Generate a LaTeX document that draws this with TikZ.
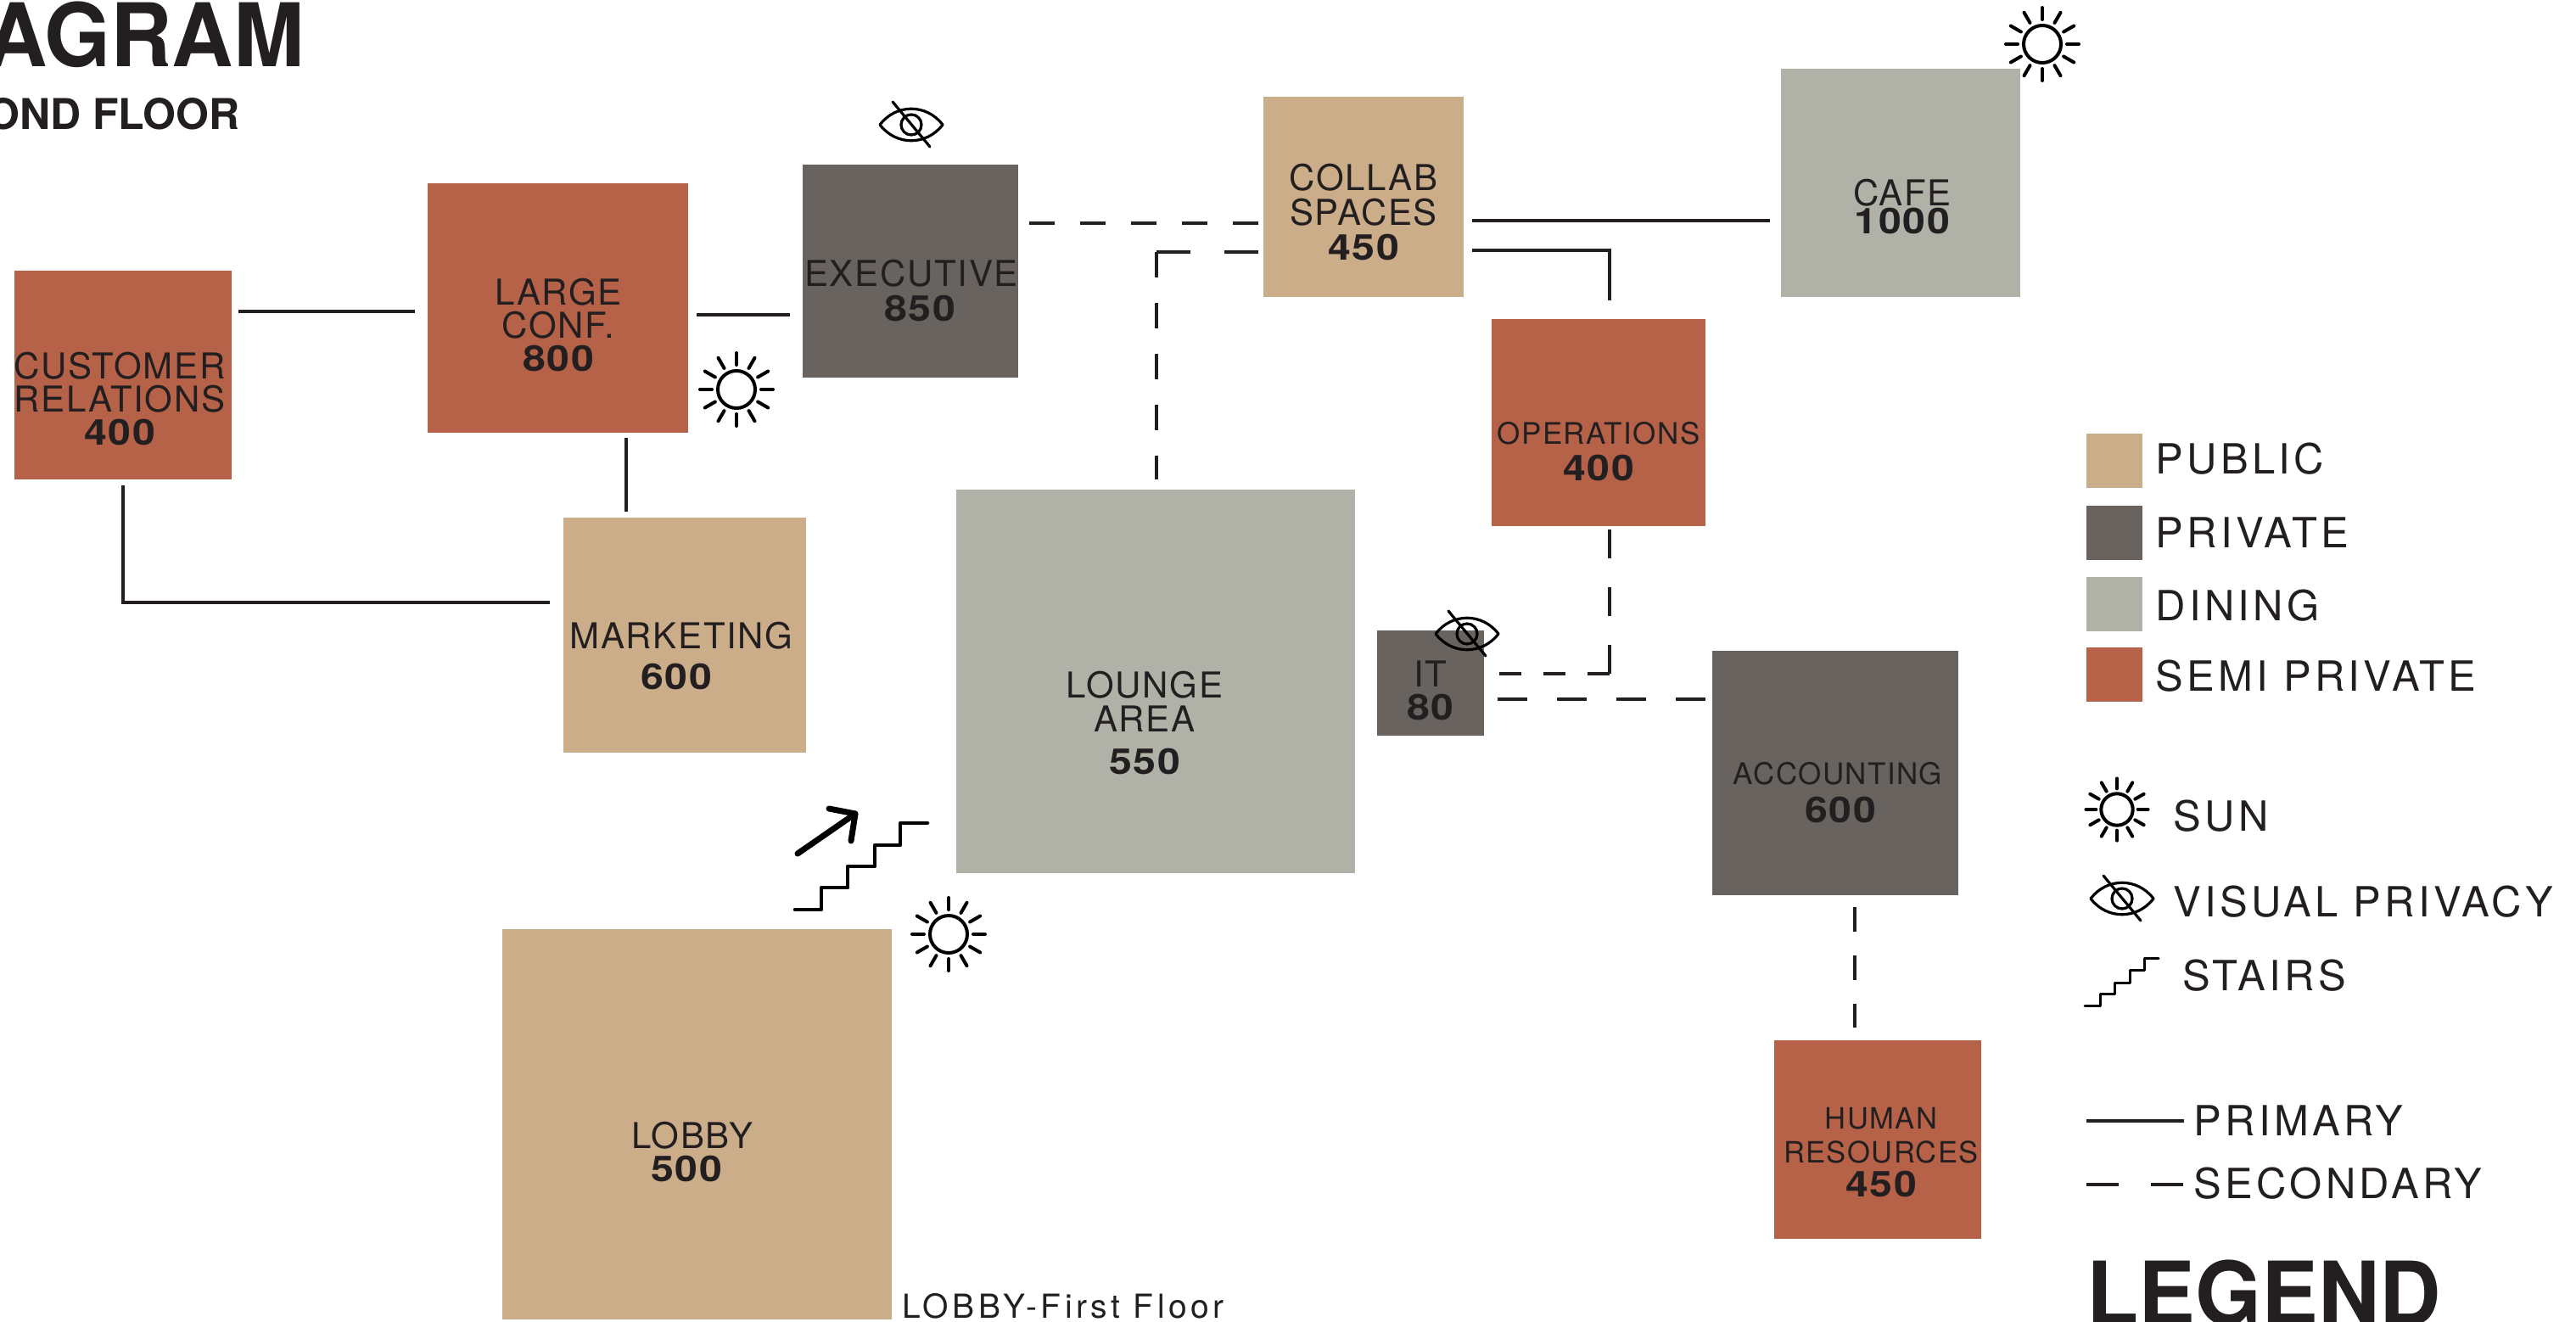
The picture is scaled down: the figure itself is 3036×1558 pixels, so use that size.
\documentclass[tikz,border=0pt]{standalone}
\usepackage{fontspec}
\setmainfont{TeX Gyre Heros}
\newfontfamily\roomfont[LetterSpace=4]{TeX Gyre Heros}
\newfontfamily\legfont[LetterSpace=8.8]{TeX Gyre Heros}
\newfontfamily\notefont[LetterSpace=11.5]{TeX Gyre Heros}
\newfontfamily\numfont[LetterSpace=4,FakeStretch=1.15]{TeX Gyre Heros}
\newfontfamily\headfont[FakeStretch=0.97]{TeX Gyre Heros}
\definecolor{ink}{HTML}{231F20}
\definecolor{pub}{HTML}{CCAD8A}
\definecolor{priv}{HTML}{68635F}
\definecolor{dine}{HTML}{B0B2A8}
\definecolor{semi}{HTML}{B66249}
\newcommand{\rnum}[1]{{\numfont\bfseries\fontsize{21}{21}\selectfont #1}}
\newcommand{\room}[6]{\node[roombox,fill=#6,minimum width={(#4-#2)*0.5pt},minimum height={(#5-#3)*0.5pt},anchor=north west] (#1) at (#2,#3) {};}
\newcommand{\rlabel}[6]{\node[roomtext,font={\roomfont\fontsize{#4}{#5}\selectfont}] (#1t) at (#2,#3) {#6};}
\tikzset{
  roombox/.style={rectangle,draw=none,inner sep=0pt,outer sep=0pt},
  roomtext/.style={align=center,inner sep=0pt,text=ink},
  legtext/.style={anchor=base west,inner sep=0pt,text=ink,font={\legfont\fontsize{24.5}{28}\selectfont}},
  primary/.style={draw=ink,line width=2pt},
  secondary/.style={draw=ink,line width=2pt,dash pattern=on 17.5pt off 17.5pt},
  secondaryshort/.style={draw=ink,line width=2pt,dash pattern=on 13pt off 13pt},
  secondarya/.style={draw=ink,line width=2pt,dash pattern=on 15pt off 15pt},
  secondaryb/.style={draw=ink,line width=2pt,dash pattern=on 20pt off 20pt},
  secondaryc/.style={draw=ink,line width=2pt,dash pattern=on 14.5pt off 14pt},
  secondaryd/.style={draw=ink,line width=2pt,dash pattern=on 17pt off 17pt},
  icon/.style={draw=black,line width=2pt,line cap=round,line join=round},
  sunicon/.pic={
    \draw[icon] (0,0) circle (22);
    \foreach \a in {0,30,...,330}{\draw[icon] (\a:29) -- (\a:43);}
  },
  eyeicon/.pic={
    \draw[icon,line width=1.6pt] (-37,0) .. controls (-18,-25) and (18,-25) .. (37,0) .. controls (18,25) and (-18,25) .. (-37,0) -- cycle;
    \draw[icon,line width=1.6pt] (0,0) circle (12);
    \draw[icon,line width=1.6pt] (-22,-27) -- (22,26);
  },
}
\begin{document}
\begin{tikzpicture}[x=0.5pt,y=-0.5pt]
\path[use as bounding box,clip] (0,0) rectangle (3036,1558);
% rooms
\room{cust}{17}{319}{273}{565}{semi}
\room{large}{504}{216}{811}{510}{semi}
\room{exec}{946}{194}{1200}{445}{priv}
\room{collab}{1489}{114}{1725}{350}{pub}
\room{cafe}{2099}{81}{2381}{350}{dine}
\room{ops}{1758}{376}{2010}{620}{semi}
\room{mkt}{664}{610}{950}{887}{pub}
\room{lounge}{1127}{577}{1597}{1029}{dine}
\room{it}{1623}{743}{1749}{867}{priv}
\room{acc}{2018}{767}{2308}{1055}{priv}
\room{hr}{2091}{1226}{2335}{1460}{semi}
\room{lobby}{592}{1095}{1051}{1555}{pub}
% room labels
\rlabel{cust}{141}{470}{21}{19.3}{CUSTOMER\\RELATIONS\\\rnum{400}}
\rlabel{large}{658}{383}{21}{19.3}{LARGE\\CONF.\\\rnum{800}}
\rlabel{exec}{1074}{342}{21}{20.5}{EXECUTIVE\\\hspace*{10pt}\rnum{850}}
\rlabel{collab}{1607}{250}{21}{20.3}{COLLAB\\SPACES\\\rnum{450}}
\rlabel{cafe}{2242}{243}{21}{16.5}{CAFE\\\rnum{1000}}
\rlabel{ops}{1884}{532}{17.5}{21.3}{OPERATIONS\\\rnum{400}}
\rlabel{mkt}{803}{773}{21}{24}{MARKETING\\\rnum{600}\hspace*{6pt}}
\rlabel{lounge}{1349}{852}{21}{20}{LOUNGE\\AREA\\[5pt]\rnum{550}}
\rlabel{it}{1686}{814}{21}{19.5}{IT\\\rnum{80}}
\rlabel{acc}{2166}{934}{17.5}{22.3}{ACCOUNTING\\\hspace*{3pt}\rnum{600}}
\rlabel{hr}{2217}{1358}{17.3}{20}{HUMAN\\RESOURCES\\\rnum{450}}
\rlabel{lobby}{816}{1357}{21}{19.5}{LOBBY\\\rnum{500}\hspace*{7pt}}
% connector guides
\coordinate (yCL) at (0,367);
\coordinate (yLE) at (0,371);
\coordinate (xLM) at (738,0);
\coordinate (yCM) at (0,710);
\coordinate (yEC) at (0,263);
\coordinate (yLC) at (0,297);
\coordinate (xLC) at (1363,0);
\coordinate (yCC) at (0,260);
\coordinate (yCO) at (0,295);
\coordinate (xOP) at (1897,0);
\coordinate (yOI) at (0,794);
\coordinate (yIA) at (0,824);
\coordinate (xAH) at (2186,0);
% primary connectors
\draw[primary,shorten <=4pt,shorten >=7.5pt] (cust.east |- yCL) -- (large.west |- yCL);
\draw[primary,shorten <=5pt,shorten >=7.5pt] (large.east |- yLE) -- (exec.west |- yLE);
\draw[primary,shorten <=3pt,shorten >=3.5pt] (large.south -| xLM) -- (mkt.north -| xLM);
\draw[primary,shorten <=3.5pt,shorten >=8pt] (cust.south) -- (cust.south |- yCM) -- (mkt.west |- yCM);
\draw[primary,shorten <=5pt,shorten >=6.5pt] (collab.east |- yCC) -- (cafe.west |- yCC);
\draw[primary,shorten <=5pt,shorten >=11pt] (collab.east |- yCO) -- (xOP |- yCO) -- (ops.north -| xOP);
% secondary connectors
\draw[secondarya,shorten <=6.5pt,shorten >=2.5pt] (exec.east |- yEC) -- (collab.west |- yEC);
\draw[secondarya,shorten >=6pt] (xLC |- yLC) -- (lounge.north -| xLC);
\draw[secondaryb,shorten >=2.5pt] (xLC |- yLC) -- (collab.west |- yLC);
\draw[secondaryd,shorten >=2pt] (xOP |- yOI) -- (ops.south -| xOP);
\draw[secondaryshort] (xOP |- yOI) -- (it.east |- yOI);
\draw[secondary,shorten <=8pt,shorten >=3.5pt] (it.east |- yIA) -- (acc.west |- yIA);
\draw[secondaryc,shorten <=7pt,shorten >=7.5pt] (acc.south -| xAH) -- (hr.north -| xAH);
% sun icons
\pic at (868,459) {sunicon};
\pic at (2407,52) {sunicon};
\pic at (1118,1101) {sunicon};
\pic[scale=0.85] at (2495,954) {sunicon};
% eye icons
\pic at (1074,147) {eyeicon};
\pic at (1729,747) {eyeicon};
\pic at (2501,1059) {eyeicon};
% stairs
\draw[icon,line width=2.25pt] (937,1072) -- (968,1072) -- (968,1046) -- (999,1046) -- (999,1021) -- (1031,1021) -- (1031,996) -- (1061,996) -- (1061,970) -- (1093,970);
\draw[icon,line width=3.5pt] (940,1006) -- (1008,959);
\draw[icon,line width=3.5pt] (977,953) -- (1008,959) -- (1003,991);
\draw[icon,line width=1.5pt] (2457,1185) -- (2475,1185) -- (2475,1171) -- (2492,1171) -- (2492,1158) -- (2510,1158) -- (2510,1143) -- (2527,1143) -- (2527,1129) -- (2544,1129);
% legend swatches
\room{swpub}{2459}{511}{2525}{575}{pub}
\room{swpriv}{2459}{596}{2525}{660}{priv}
\room{swdine}{2459}{680}{2525}{744}{dine}
\room{swsemi}{2459}{763}{2525}{827}{semi}
\node[legtext] (lpub) at (2540,558) {PUBLIC};
\node[legtext] (lpriv) at (2540,645) {PRIVATE};
\node[legtext] (ldine) at (2540,731) {DINING};
\node[legtext] (lsemi) at (2540,814) {SEMI PRIVATE};
\node[legtext] (lsun) at (2561,979) {SUN};
\node[legtext] (lvis) at (2561,1080) {VISUAL PRIVACY};
\node[legtext] (lstairs) at (2572,1167) {STAIRS};
\node[legtext] (lprim) at (2585,1338) {PRIMARY};
\node[legtext] (lsec) at (2585,1412) {SECONDARY};
\coordinate (pa) at (2459,1321);
\coordinate (pb) at (2574,1321);
\coordinate (sa) at (2459,1396);
\coordinate (sb) at (2574,1396);
\draw[primary] (pa) -- (pb);
\draw[draw=ink,line width=2pt,dash pattern=on 19pt off 19pt] (sa) -- (sb);
% titles
\node[anchor=base east,inner sep=0pt,text=ink,font={\headfont\bfseries\fontsize{51.7}{55}\selectfont}] (title) at (359,78) {AGRAM};
\node[anchor=base east,inner sep=0pt,text=ink,font={\bfseries\fontsize{25}{28}\selectfont}] (subtitle) at (283,152) {OND FLOOR};
\node[anchor=base west,inner sep=0pt,text=ink,font={\headfont\bfseries\fontsize{51.7}{55}\selectfont}] (legendtitle) at (2459,1561) {LEGEND};
\node[anchor=base west,inner sep=0pt,text=ink,font={\notefont\fontsize{19.5}{24}\selectfont}] (lobbynote) at (1063,1553) {LOBBY-First Floor};
\end{tikzpicture}
\end{document}
